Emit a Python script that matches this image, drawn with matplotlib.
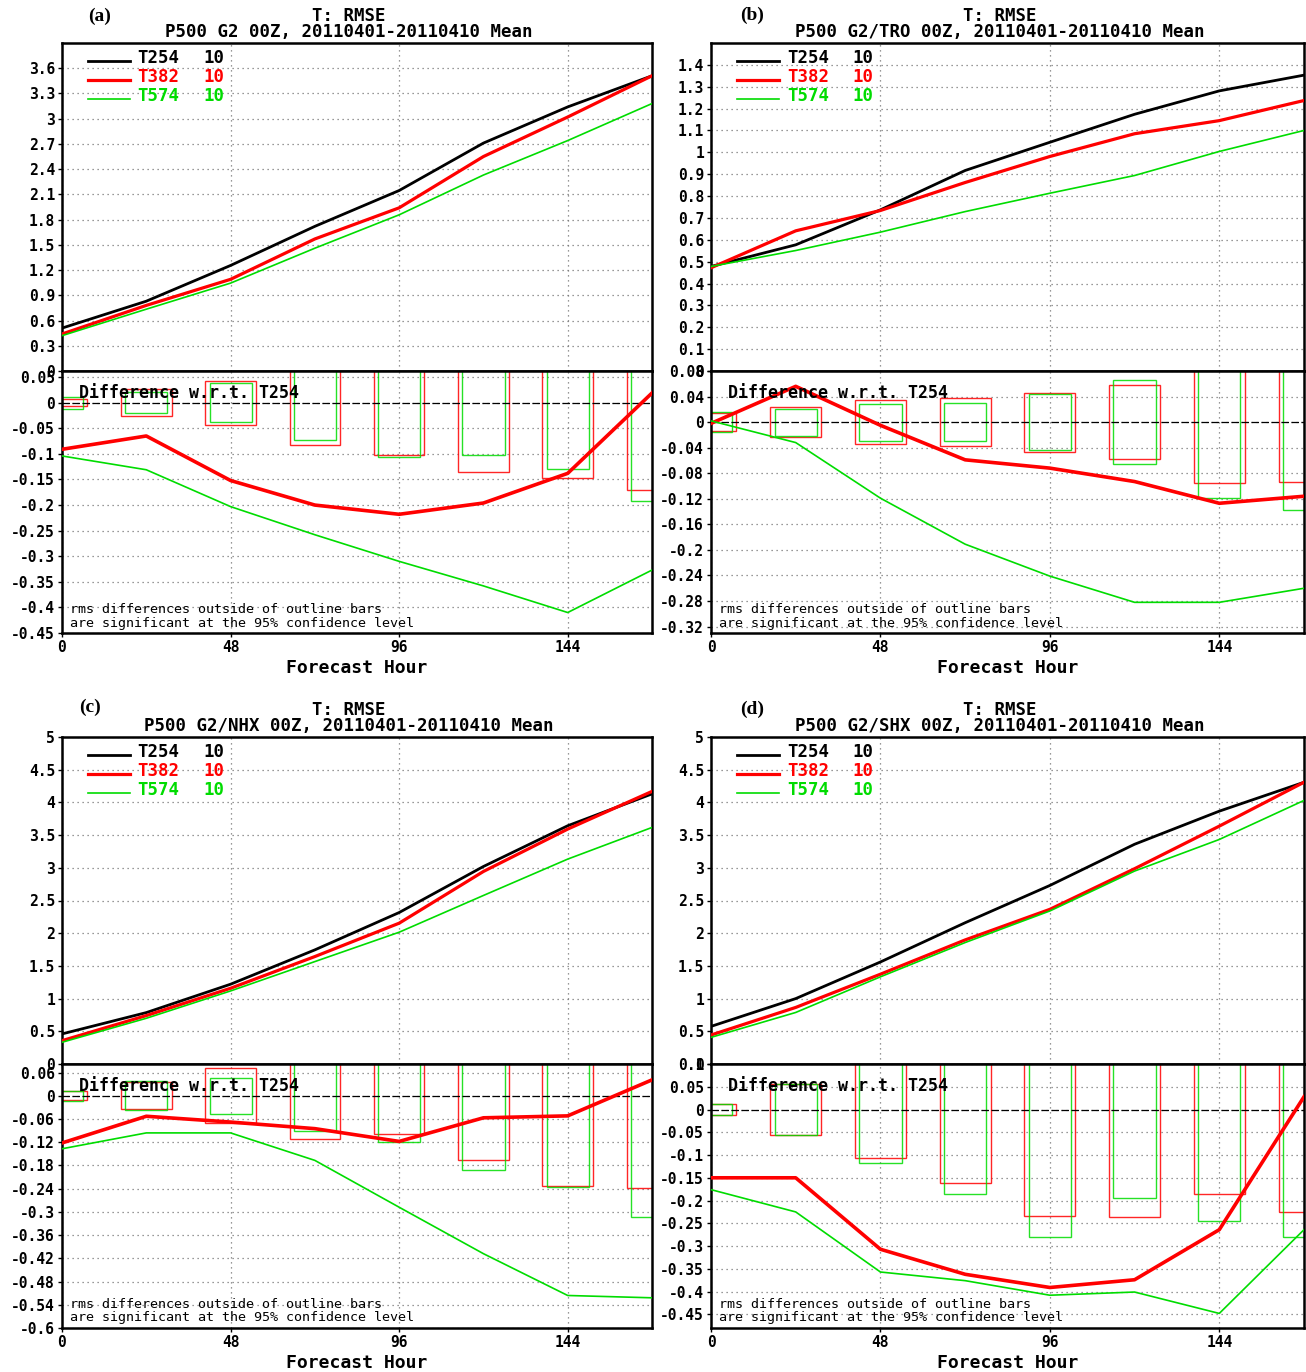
import numpy as np
import matplotlib
matplotlib.use("Agg")
import matplotlib.pyplot as plt

plt.rcParams['axes.unicode_minus'] = False

# ---------------- data ----------------
hours = [0, 24, 48, 72, 96, 120, 144, 168]
xticks = [0, 48, 96, 144]
models = ["T254", "T382", "T574"]
counts = ["10", "10", "10"]

A_T254 = [0.51, 0.83, 1.255, 1.72, 2.146, 2.71, 3.14, 3.51]
A_T382 = [0.44, 0.78, 1.09, 1.57, 1.94, 2.55, 3.02, 3.51]
A_T574 = [0.42, 0.735, 1.045, 1.46, 1.857, 2.33, 2.74, 3.18]
A_D382 = [-0.091, -0.065, -0.152, -0.200, -0.218, -0.196, -0.138, 0.019]
A_D574 = [-0.104, -0.131, -0.203, -0.258, -0.310, -0.358, -0.410, -0.327]
A_CI382 = [0.007, 0.026, 0.043, 0.082, 0.102, 0.136, 0.148, 0.170]
A_CI574 = [0.012, 0.020, 0.038, 0.072, 0.106, 0.102, 0.130, 0.192]

B_T254 = [0.478, 0.577, 0.737, 0.917, 1.046, 1.174, 1.281, 1.353]
B_T382 = [0.472, 0.641, 0.734, 0.862, 0.981, 1.085, 1.145, 1.237]
B_T574 = [0.478, 0.551, 0.635, 0.729, 0.813, 0.894, 1.004, 1.100]
B_D382 = [-0.002, 0.056, -0.005, -0.059, -0.072, -0.093, -0.127, -0.116]
B_D574 = [0.002, -0.032, -0.119, -0.191, -0.241, -0.282, -0.282, -0.260]
B_CI382 = [0.014, 0.023, 0.034, 0.037, 0.046, 0.058, 0.096, 0.093]
B_CI574 = [0.016, 0.021, 0.029, 0.030, 0.044, 0.066, 0.119, 0.138]

C_T254 = [0.46, 0.786, 1.22, 1.745, 2.316, 3.02, 3.643, 4.13]
C_T382 = [0.357, 0.74, 1.158, 1.643, 2.153, 2.944, 3.592, 4.168]
C_T574 = [0.332, 0.699, 1.117, 1.566, 2.015, 2.577, 3.133, 3.617]
C_D382 = [-0.122, -0.053, -0.068, -0.085, -0.118, -0.057, -0.052, 0.041]
C_D574 = [-0.137, -0.096, -0.096, -0.167, -0.288, -0.408, -0.516, -0.522]
C_CI382 = [0.011, 0.035, 0.071, 0.112, 0.098, 0.167, 0.233, 0.239]
C_CI574 = [0.013, 0.038, 0.047, 0.090, 0.119, 0.191, 0.235, 0.312]

D_T254 = [0.575, 1.0, 1.56, 2.16, 2.73, 3.36, 3.866, 4.308]
D_T382 = [0.443, 0.865, 1.373, 1.897, 2.365, 2.986, 3.637, 4.308]
D_T574 = [0.407, 0.788, 1.333, 1.857, 2.34, 2.95, 3.433, 4.03]
D_D382 = [-0.15, -0.15, -0.307, -0.362, -0.391, -0.374, -0.264, 0.028]
D_D574 = [-0.176, -0.225, -0.357, -0.376, -0.408, -0.401, -0.448, -0.264]
D_CI382 = [0.012, 0.055, 0.106, 0.162, 0.235, 0.237, 0.185, 0.226]
D_CI574 = [0.012, 0.056, 0.117, 0.185, 0.279, 0.194, 0.245, 0.279]

panel_labels = ["(a)", "(b)", "(c)", "(d)"]
subtitles = ["P500 G2 00Z, 20110401-20110410 Mean",
             "P500 G2/TRO 00Z, 20110401-20110410 Mean",
             "P500 G2/NHX 00Z, 20110401-20110410 Mean",
             "P500 G2/SHX 00Z, 20110401-20110410 Mean"]
main_title = "T: RMSE"

top_ticks = [np.arange(0, 3.61, 0.3), np.arange(0, 1.41, 0.1),
             np.arange(0, 5.01, 0.5), np.arange(0, 5.01, 0.5)]
top_lims = [(0, 3.9), (0, 1.5), (0, 5), (0, 5)]
bot_ticks = [np.arange(-0.45, 0.051, 0.05), np.arange(-0.32, 0.081, 0.04),
             np.arange(-0.6, 0.061, 0.06), np.arange(-0.45, 0.101, 0.05)]
bot_lims = [(-0.45, 0.062), (-0.33, 0.08), (-0.6, 0.082), (-0.48, 0.1)]

rmse = [(A_T254, A_T382, A_T574), (B_T254, B_T382, B_T574),
        (C_T254, C_T382, C_T574), (D_T254, D_T382, D_T574)]
diffs = [(A_D382, A_D574), (B_D382, B_D574), (C_D382, C_D574), (D_D382, D_D574)]
cis = [(A_CI382, A_CI574), (B_CI382, B_CI574), (C_CI382, C_CI574), (D_CI382, D_CI574)]

# ---------------- style ----------------
BLACK = "#000000"
RED = "#ff0000"
GREEN = "#00dc00"
colors = [BLACK, RED, GREEN]
top_lw = [2.0, 2.3, 1.2]
MONO = "DejaVu Sans Mono"
SERIF = "Liberation Serif"

W, H = 1306, 1372
fig = plt.figure(figsize=(W / 100, H / 100), dpi=100)


def fx(px):
    return px / W


def fy(py):
    return 1 - py / H


def fmt(v):
    v = round(v, 4)
    if abs(v) < 1e-9:
        return "0"
    return f"{v:g}"


# positions (pixel) for each panel: left, right, top, mid, bottom
layout = [
    (62, 652, 43, 371, 633),
    (711, 1304, 43, 371, 633),
    (62, 652, 737, 1064, 1328),
    (711, 1304, 737, 1064, 1328),
]
label_pos = [(100, 16), (752, 15), (90, 707), (752, 709)]


def style_axes(ax):
    for s in ax.spines.values():
        s.set_linewidth(1.8)
        s.set_color("black")
    ax.tick_params(axis="both", direction="out", length=3, width=1,
                   labelsize=10.5, pad=2)
    for lab in ax.get_yticklabels() + ax.get_xticklabels():
        lab.set_fontfamily(MONO)
        lab.set_fontweight("bold")
    ax.grid(True, linestyle=(0, (1, 3)), color="#777777", linewidth=0.9)


for i in range(4):
    l, r, t, m, b = layout[i]
    ax1 = fig.add_axes([fx(l), fy(m), fx(r - l), (m - t) / H])
    ax2 = fig.add_axes([fx(l), fy(b), fx(r - l), (b - m) / H])

    # --- top: RMSE ---
    for k in range(3):
        ax1.plot(hours, rmse[i][k], color=colors[k], lw=top_lw[k], zorder=3)
    ax1.set_xlim(0, 168)
    ax1.set_ylim(*top_lims[i])
    ax1.set_xticks(xticks)
    ax1.set_xticklabels([])
    ax1.tick_params(axis="x", length=0)
    ax1.set_yticks(top_ticks[i])
    ax1.set_yticklabels([fmt(v) for v in top_ticks[i]])
    style_axes(ax1)

    # legend
    ys = [0.954, 0.896, 0.838]
    for k in range(3):
        ax1.plot([0.044, 0.115], [ys[k] - 0.008, ys[k] - 0.008], color=colors[k],
                 lw=top_lw[k], transform=ax1.transAxes, clip_on=False)
        ax1.text(0.128, ys[k], models[k], color=colors[k], transform=ax1.transAxes,
                 fontfamily=MONO, fontweight="bold", fontsize=12.5, va="center", ha="left")
        ax1.text(0.239, ys[k], counts[k], color=colors[k], transform=ax1.transAxes,
                 fontfamily=MONO, fontweight="bold", fontsize=12.5, va="center", ha="left")

    # --- bottom: differences ---
    d382, d574 = diffs[i]
    c382, c574 = cis[i]
    ax2.bar(hours, [2 * c for c in c382], bottom=[-c for c in c382], width=14.4,
            fill=False, edgecolor=RED, linewidth=1.0, alpha=0.85, zorder=2)
    ax2.bar(hours, [2 * c for c in c574], bottom=[-c for c in c574], width=12.0,
            fill=False, edgecolor=GREEN, linewidth=1.0, alpha=0.85, zorder=2)
    ax2.axhline(0, color="black", lw=0.9, ls=(0, (6, 2)), zorder=2)
    ax2.plot(hours, d382, color=RED, lw=2.6, zorder=4)
    ax2.plot(hours, d574, color=GREEN, lw=1.2, zorder=4)
    ax2.set_xlim(0, 168)
    ax2.set_ylim(*bot_lims[i])
    ax2.set_xticks(xticks)
    ax2.set_xticklabels([str(v) for v in xticks])
    ax2.set_yticks(bot_ticks[i])
    ax2.set_yticklabels([fmt(v) for v in bot_ticks[i]])
    style_axes(ax2)
    ax2.set_xlabel("Forecast Hour", fontfamily=MONO, fontweight="bold",
                   fontsize=13, labelpad=3)

    ax2.text(0.029, 0.915, "Difference w.r.t. T254", transform=ax2.transAxes,
             fontfamily=MONO, fontweight="bold", fontsize=12, va="center", ha="left",
             zorder=5)
    ax2.text(0.014, 0.088, "rms differences outside of outline bars",
             transform=ax2.transAxes, fontfamily=MONO, fontsize=9.6,
             va="center", ha="left", zorder=5)
    ax2.text(0.014, 0.038, "are significant at the 95% confidence level",
             transform=ax2.transAxes, fontfamily=MONO, fontsize=9.6,
             va="center", ha="left", zorder=5)

    # titles
    cx = (l + r) / 2 - 8
    fig.text(fx(cx), fy(t - 27), main_title, fontfamily=MONO, fontweight="bold",
             fontsize=12.5, ha="center", va="center")
    fig.text(fx(cx), fy(t - 11), subtitles[i], fontfamily=MONO, fontweight="bold",
             fontsize=12.5, ha="center", va="center")
    lx, ly = label_pos[i]
    fig.text(fx(lx), fy(ly), panel_labels[i], fontfamily=SERIF, fontweight="bold",
             fontsize=14, ha="center", va="center")

fig.savefig("out.png", dpi=100)
